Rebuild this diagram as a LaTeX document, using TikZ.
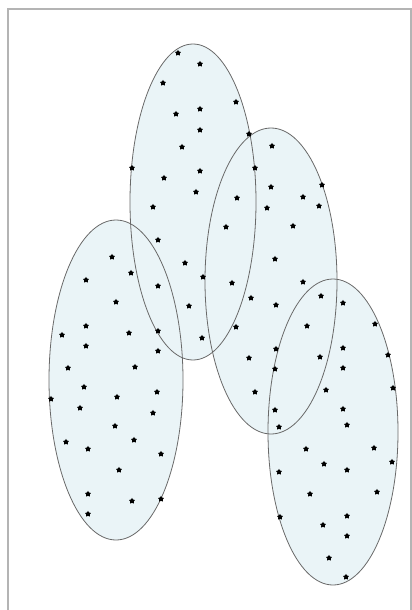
\documentclass[tikz,border=0pt]{standalone}
\usetikzlibrary{shapes.geometric}
\definecolor{ellfill}{RGB}{234,244,247}
\definecolor{ellline}{RGB}{105,105,105}
\definecolor{frame}{RGB}{180,180,180}
\tikzset{
  dot/.style={star, star points=5, star point ratio=1.7, fill=black, inner sep=0pt, minimum size=6.2pt},
}
\begin{document}
\begin{tikzpicture}[x=1pt,y=-1pt]
\useasboundingbox (0,0) rectangle (412,610);
\begin{scope}
\clip (0,0) rectangle (412,610);
\draw[frame, line width=1.5pt] (8,9) rectangle (411,615);
\end{scope}
% ellipses
\fill[ellfill] (116,380) ellipse [x radius=67, y radius=160];
\fill[ellfill] (193,202) ellipse [x radius=63, y radius=158];
\fill[ellfill] (271,281) ellipse [x radius=66, y radius=153];
\fill[ellfill] (333,432) ellipse [x radius=65, y radius=153];
\draw[ellline, line width=0.8pt] (116,380) ellipse [x radius=67, y radius=160];
\draw[ellline, line width=0.8pt] (193,202) ellipse [x radius=63, y radius=158];
\draw[ellline, line width=0.8pt] (271,281) ellipse [x radius=66, y radius=153];
\draw[ellline, line width=0.8pt] (333,432) ellipse [x radius=65, y radius=153];
% dots
\foreach \p [count=\i] in {
(178,53),(200,64),(163,83),(236,102),(176,114),(200,109),(200,130),(249,134),
(182,147),(272,146),(132,168),(200,171),(255,168),(164,178),(196,192),(271,187),
(322,185),(237,198),(303,197),(153,207),(267,208),(319,206),(226,227),(293,226),
(158,240),(275,259),(112,257),(185,263),(131,273),(86,280),(203,277),(158,286),
(232,283),(303,282),(251,298),(276,305),(321,296),(343,303),(116,302),(189,306),
(86,326),(62,335),(129,333),(158,331),(236,327),(307,326),(375,324),(86,346),
(158,351),(202,338),(276,349),(343,348),(388,355),(68,368),(135,367),(249,358),
(320,357),(275,369),(343,368),(84,387),(157,392),(117,397),(255,392),(326,390),
(393,388),(51,399),(80,408),(153,413),(275,410),(343,409),(115,426),(279,427),
(347,425),(66,442),(88,449),(134,440),(306,449),(374,448),(161,454),(324,464),
(347,470),(392,462),(119,470),(279,472),(310,494),(377,492),(88,494),(132,501),
(161,499),(280,517),(347,516),(323,525),(88,514),(347,536),(329,558),(346,577)}
  \node[dot] (d\i) at \p {};
\end{tikzpicture}
\end{document}
